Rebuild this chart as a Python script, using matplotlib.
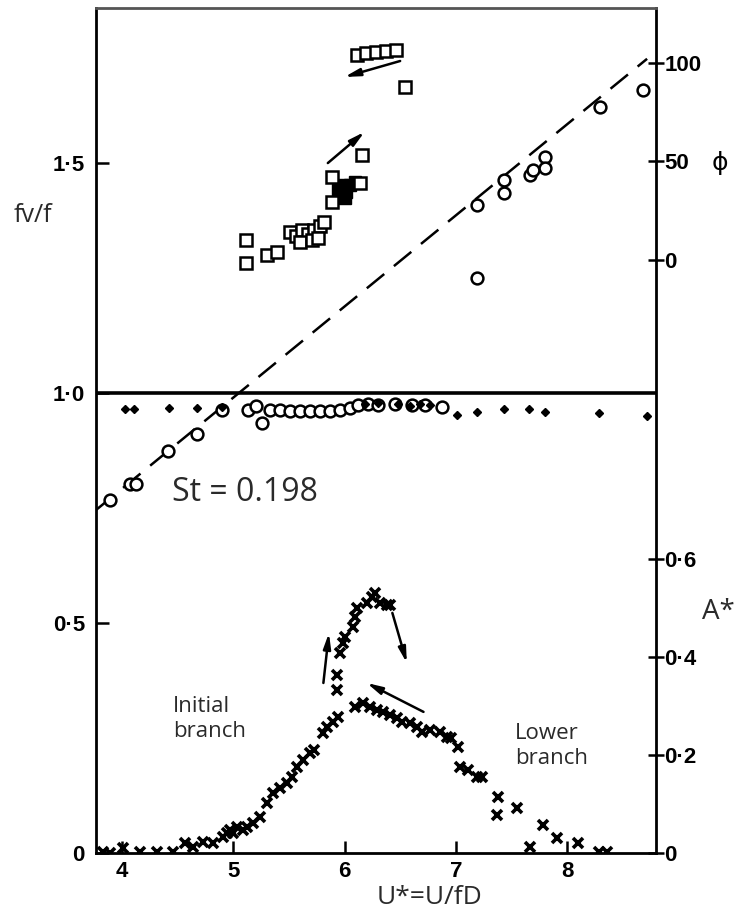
import matplotlib
matplotlib.use("Agg")
import matplotlib.pyplot as plt
from matplotlib import font_manager as fm

# ---- data -------------------------------------------------------------
St = 0.198

# frequency ratio fv/f (open circles)
freq_u = [3.89, 4.07, 4.13, 4.41, 4.67, 4.90,
          5.13, 5.20, 5.26, 5.33, 5.42, 5.51, 5.60, 5.69, 5.78, 5.87, 5.96,
          6.05, 6.12, 6.21, 6.30, 6.45, 6.61, 6.72, 6.88,
          7.19, 7.19, 7.43, 7.43, 7.67, 7.69, 7.80, 7.80, 8.30, 8.68]
freq_r = [0.767, 0.802, 0.802, 0.874, 0.911, 0.963,
          0.963, 0.972, 0.935, 0.963, 0.963, 0.961, 0.961, 0.961, 0.961, 0.961, 0.963,
          0.967, 0.974, 0.976, 0.974, 0.976, 0.974, 0.974, 0.970,
          1.409, 1.250, 1.463, 1.435, 1.474, 1.485, 1.513, 1.489, 1.622, 1.659]

# frequency ratio, second series (small filled dots)
dot_u = [4.03, 4.11, 4.42, 4.67, 4.90, 6.18, 6.30, 6.48, 6.59, 6.68, 6.77,
         7.01, 7.19, 7.43, 7.66, 7.80, 8.29, 8.72]
dot_r = [0.965, 0.965, 0.967, 0.967, 0.970, 0.976, 0.978, 0.976, 0.972, 0.976, 0.974,
         0.952, 0.959, 0.965, 0.965, 0.959, 0.957, 0.950]

# phase angle phi (open squares)
phase_u = [5.11, 5.11, 5.30, 5.39, 5.51, 5.56, 5.62, 5.67, 5.73, 5.78, 5.82,
           5.60, 5.71, 5.76, 5.89, 5.89, 6.14, 6.16,
           6.11, 6.19, 6.28, 6.37, 6.46, 6.54]
phase_v = [10.2, -1.5, 2.5, 4.1, 14.2, 12.2, 15.2, 13.2, 15.2, 17.3, 19.3,
           9.1, 10.2, 11.2, 42.1, 29.4, 39.1, 53.3,
           104.1, 105.1, 105.6, 106.1, 106.6, 87.8]
# overlapping phase points that print as solid blobs
phase_fill_u = [5.94, 5.98, 6.01, 6.05, 6.00, 6.09, 5.96, 5.65, 5.70, 5.75]
phase_fill_v = [35.5, 38.1, 34.5, 38.1, 31.5, 39.6, 32.5, 12.0, 14.0, 13.0]

# amplitude A* (crosses)
amp_u = [3.83, 3.89, 4.01, 4.16, 4.31, 4.46, 4.57, 4.64, 4.73, 4.82, 4.91, 4.94,
         4.97, 5.00, 5.03, 5.09, 5.12, 5.18, 5.24, 5.30, 5.36, 5.42, 5.48, 5.53,
         5.57, 5.63, 5.69, 5.73, 5.81, 5.84, 5.90, 5.94,
         5.93, 5.93, 5.96, 5.99, 6.00, 6.08, 6.09, 6.11, 6.20, 6.25, 6.27, 6.32,
         6.38, 6.41,
         6.09, 6.17, 6.23, 6.29, 6.35, 6.41, 6.47, 6.52, 6.59, 6.65, 6.70, 6.77,
         6.86, 6.92, 6.96, 7.02, 7.04, 7.11, 7.19, 7.24, 7.38, 7.37, 7.55, 7.78,
         7.91, 8.10, 7.67, 8.29, 8.36]
amp_v = [0.002, 0.000, 0.010, 0.002, 0.002, 0.002, 0.020, 0.012, 0.022, 0.020, 0.033, 0.041,
         0.047, 0.041, 0.053, 0.047, 0.053, 0.061, 0.073, 0.102, 0.122, 0.133, 0.143, 0.155,
         0.176, 0.190, 0.204, 0.210, 0.245, 0.257, 0.267, 0.278,
         0.333, 0.363, 0.408, 0.429, 0.441, 0.461, 0.482, 0.500, 0.510, 0.522, 0.531, 0.510,
         0.506, 0.506,
         0.298, 0.306, 0.298, 0.292, 0.288, 0.282, 0.276, 0.267, 0.265, 0.257, 0.247, 0.251,
         0.247, 0.237, 0.235, 0.216, 0.176, 0.169, 0.155, 0.155, 0.114, 0.078, 0.092, 0.057,
         0.031, 0.020, 0.012, 0.002, 0.002]

# trend arrows: (U start, value start, U end, value end)
phase_arrows = [(6.50, 101.0, 6.00, 92.9), (5.85, 49.2, 6.18, 65.0)]
amp_arrows = [(5.81, 0.347, 5.86, 0.449), (6.43, 0.490, 6.56, 0.388),
              (6.71, 0.288, 6.20, 0.347)]

x_ticks = [4, 5, 6, 7, 8]
x_labels = ["4", "5", "6", "7", "8"]
f_ticks = [0, 0.5, 1.0, 1.5]
f_labels = ["0", "0·5", "1·0", "1·5"]
a_ticks = [0, 0.2, 0.4, 0.6]
a_labels = ["0", "0·2", "0·4", "0·6"]
p_ticks = [0, 50, 100]
p_labels = ["0", "50", "100"]

# ---- fonts ------------------------------------------------------------
names = {f.name for f in fm.fontManager.ttflist}
num_font = "Liberation Sans" if "Liberation Sans" in names else "DejaVu Sans"
lab_font = "Open Sans" if "Open Sans" in names else "DejaVu Sans"

W, H = 734, 917
fig = plt.figure(figsize=(W / 100, H / 100), dpi=100)
ax = fig.add_axes([96 / W, 1 - 853 / H, (656 - 96) / W, (853 - 8) / H])

ax.set_xlim(3.766, 8.80)
ax.set_ylim(0, 1.837)

ax_a = ax.twinx()
ax_a.set_ylim(0, 1.837 * 460 / 490)
ax_p = ax.twinx()
ax_p.set_ylim(-301.0, 127.9)

for a in (ax_a, ax_p):
    for s in a.spines.values():
        s.set_visible(False)
    a.patch.set_visible(False)

for s in ax.spines.values():
    s.set_linewidth(2.0)
    s.set_color("black")
ax.spines["top"].set_color("#555555")

ink = "black"

# reference line fv/f = St * U*
lu = [3.766, 8.72]
ax.plot(lu, [St * u for u in lu], color=ink, lw=1.8, ls=(0, (9, 5)), zorder=2)
# fv/f = 1 line
ax.axhline(1.0, color=ink, lw=2.6, zorder=2)

ax.plot(freq_u, freq_r, ls="none", marker="o", ms=8.5, mfc="white", mec=ink, mew=1.8, zorder=4)
ax.plot(dot_u, dot_r, ls="none", marker="D", ms=4, mfc=ink, mec=ink, zorder=4)

ax_p.plot(phase_fill_u, phase_fill_v, ls="none", marker="s", ms=9, mfc=ink, mec=ink, zorder=3)
ax_p.plot(phase_u, phase_v, ls="none", marker="s", ms=9, mfc="white", mec=ink, mew=1.8, zorder=4)

ax_a.plot(amp_u, amp_v, ls="none", marker="x", ms=7, mec=ink, mew=2.6, zorder=4)

arrow_style = dict(arrowstyle="-|>,head_length=0.9,head_width=0.22", color=ink, lw=1.8,
                   shrinkA=0, shrinkB=0)
for u0, v0, u1, v1 in phase_arrows:
    ax_p.annotate("", xy=(u1, v1), xytext=(u0, v0), arrowprops=arrow_style)
for u0, v0, u1, v1 in amp_arrows:
    ax_a.annotate("", xy=(u1, v1), xytext=(u0, v0), arrowprops=arrow_style)

tick_font = dict(family=num_font, size=16, weight="bold")

ax.set_xticks(x_ticks)
ax.set_xticklabels(x_labels, **tick_font)
ax.set_yticks(f_ticks)
ax.set_yticklabels(f_labels, **tick_font)
ax.tick_params(axis="both", direction="in", length=9, width=1.8, colors=ink)
ax.tick_params(axis="x", pad=6)
ax.tick_params(axis="y", pad=8, left=True, right=False)

ax_a.set_yticks(a_ticks)
ax_a.set_yticklabels(a_labels, **tick_font)
ax_a.tick_params(axis="y", direction="inout", length=12, width=1.8, pad=0)

ax_p.set_yticks(p_ticks)
ax_p.set_yticklabels(p_labels, **tick_font)
ax_p.tick_params(axis="y", direction="inout", length=12, width=1.8, pad=0)

txt = "#2a2a2a"
fig.text(33 / W, 1 - 216 / H, "fv/f", family=lab_font, size=18, color=txt,
         ha="center", va="center")
fig.text(172 / W, 1 - 493 / H, "St = 0.198", family=lab_font, size=23, color=txt,
         ha="left", va="center")
fig.text(173 / W, 1 - 719 / H, "Initial\nbranch", family=lab_font, size=16, color=txt,
         ha="left", va="center", linespacing=1.3)
fig.text(515 / W, 1 - 746 / H, "Lower\nbranch", family=lab_font, size=16, color=txt,
         ha="left", va="center", linespacing=1.3)
fig.text(702 / W, 1 - 612 / H, "A*", family=lab_font, size=20, color=txt,
         ha="left", va="center")
fig.text(377 / W, 1 - 904 / H, "U*=U/fD", family=lab_font, size=19, color=txt,
         ha="left", va="baseline")
fig.text(720 / W, 1 - 163 / H, "ϕ", family="DejaVu Sans", size=18, color=ink,
         ha="center", va="center")

fig.savefig("out.png", dpi=100)
